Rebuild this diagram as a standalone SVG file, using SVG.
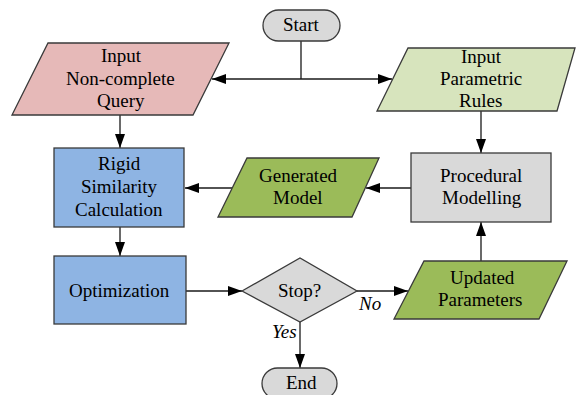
<svg xmlns="http://www.w3.org/2000/svg" width="576" height="395" viewBox="0 0 576 395">
<defs>
<marker id="ah" markerWidth="14" markerHeight="10" refX="14" refY="5" orient="auto" markerUnits="userSpaceOnUse">
<path d="M0,0 L14,5 L0,10 Z" fill="#000"/>
</marker>
</defs>
<style>
.s{stroke:#3a3a3a;stroke-width:1.3}
.c{fill:none;stroke:#1a1a1a;stroke-width:1.3;marker-end:url(#ah)}
.l{fill:none;stroke:#1a1a1a;stroke-width:1.3}
</style>
<rect width="576" height="395" fill="#fff"/>
<g id="connectors">
<path class="l" d="M301,41 V79"/>
<path class="c" d="M301,79 H212"/>
<path class="c" d="M301,79 H392"/>
<path class="c" d="M120,115 V148"/>
<path class="c" d="M481,111 V153"/>
<path class="c" d="M232,188 H185"/>
<path class="c" d="M411,188 H366"/>
<path class="c" d="M481,261 V222"/>
<path class="c" d="M120,227 V256"/>
<path class="c" d="M186,291 H242"/>
<path class="c" d="M357,291 H408"/>
<path class="c" d="M300,322 V368"/>
<text x="359" y="310" style="font-family:'Liberation Serif','Times New Roman',serif;font-size:19px;font-style:italic">No</text>
<text x="272" y="338" style="font-family:'Liberation Serif','Times New Roman',serif;font-size:19px;font-style:italic">Yes</text>
</g>
<g id="start">
<rect class="s" x="263" y="10" width="77" height="31" rx="15.5" fill="#d9d9d9"/>
<text x="283" y="31" style="font-family:'Liberation Serif','Times New Roman',serif;font-size:19px">Start</text>
</g>
<g id="input-query">
<polygon class="s" points="48,43 229,43 193,115 12,115" fill="#e6b9b8"/>
<text x="101" y="62" style="font-family:'Liberation Serif','Times New Roman',serif;font-size:19px">Input</text>
<text x="66" y="85" style="font-family:'Liberation Serif','Times New Roman',serif;font-size:19px">Non-complete</text>
<text x="97" y="107" style="font-family:'Liberation Serif','Times New Roman',serif;font-size:19px">Query</text>
</g>
<g id="input-rules">
<polygon class="s" points="408,48 575,48 557,111 377,111" fill="#d7e4bd"/>
<text x="461" y="63" style="font-family:'Liberation Serif','Times New Roman',serif;font-size:19px">Input</text>
<text x="440" y="85" style="font-family:'Liberation Serif','Times New Roman',serif;font-size:19px">Parametric</text>
<text x="459" y="107" style="font-family:'Liberation Serif','Times New Roman',serif;font-size:19px">Rules</text>
</g>
<g id="rigid">
<rect class="s" x="54" y="148" width="130" height="79" fill="#8eb4e3"/>
<text x="98" y="170" style="font-family:'Liberation Serif','Times New Roman',serif;font-size:19px">Rigid</text>
<text x="81" y="193" style="font-family:'Liberation Serif','Times New Roman',serif;font-size:19px">Similarity</text>
<text x="75" y="216" style="font-family:'Liberation Serif','Times New Roman',serif;font-size:19px">Calculation</text>
</g>
<g id="generated-model">
<polygon class="s" points="247,158 379,158 352,217 218,217" fill="#9bbb59"/>
<text x="259" y="182" style="font-family:'Liberation Serif','Times New Roman',serif;font-size:19px">Generated</text>
<text x="273" y="204" style="font-family:'Liberation Serif','Times New Roman',serif;font-size:19px">Model</text>
</g>
<g id="procedural">
<rect class="s" x="411" y="153" width="140" height="69" fill="#d9d9d9"/>
<text x="440" y="182" style="font-family:'Liberation Serif','Times New Roman',serif;font-size:19px">Procedural</text>
<text x="442" y="204" style="font-family:'Liberation Serif','Times New Roman',serif;font-size:19px">Modelling</text>
</g>
<g id="optimization">
<rect class="s" x="54" y="256" width="132" height="68" fill="#8eb4e3"/>
<text x="69" y="297" style="font-family:'Liberation Serif','Times New Roman',serif;font-size:19px">Optimization</text>
</g>
<g id="stop">
<polygon class="s" points="242,291 300,258 357,291 300,322" fill="#d9d9d9"/>
<text x="278" y="297" style="font-family:'Liberation Serif','Times New Roman',serif;font-size:19px">Stop?</text>
</g>
<g id="updated">
<polygon class="s" points="424,261 567,261 539,319 394,319" fill="#9bbb59"/>
<text x="450" y="284" style="font-family:'Liberation Serif','Times New Roman',serif;font-size:19px">Updated</text>
<text x="438" y="306" style="font-family:'Liberation Serif','Times New Roman',serif;font-size:19px">Parameters</text>
</g>
<g id="end">
<rect class="s" x="262" y="368" width="75" height="31" rx="15.5" fill="#d9d9d9"/>
<text x="286" y="389" style="font-family:'Liberation Serif','Times New Roman',serif;font-size:19px">End</text>
</g>
</svg>
